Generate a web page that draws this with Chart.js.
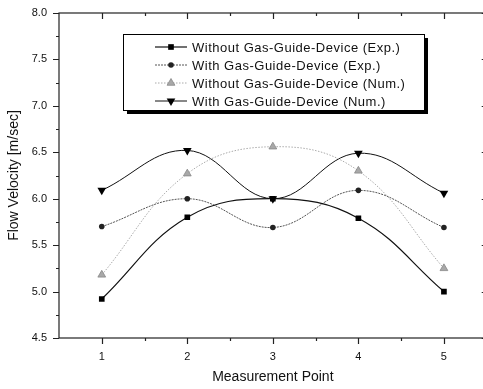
<!DOCTYPE html>
<html>
<head>
<meta charset="utf-8">
<script src="https://cdn.jsdelivr.net/npm/chart.js@4.4.1/dist/chart.umd.min.js"></script>
<style>
  html, body { margin: 0; padding: 0; background: #fff; overflow: hidden; }
  /* l'asse destro dell'originale cade appena fuori dall'immagine */
  #wrap { width: 492px; height: 389px; }
</style>
</head>
<body>
<div id="wrap"><canvas id="velocita"></canvas></div>
<script>
// dati
const punti = [1, 2, 3, 4, 5];
const withoutExp = [4.92, 5.80, 6.00, 5.79, 5.00];
const withExp = [5.70, 6.00, 5.69, 6.09, 5.69];
const withoutNum = [5.18, 6.27, 6.56, 6.30, 5.25];
const withNum = [6.09, 6.52, 6.00, 6.49, 6.06];
const nomiSerie = [
    'Without Gas-Guide-Device (Exp.)',
    'With Gas-Guide-Device (Exp.)',
    'Without Gas-Guide-Device (Num.)',
    'With Gas-Guide-Device (Num.)'
];
const xTicks = [1, 2, 3, 4, 5];
const xMinor = [1.5, 2.5, 3.5, 4.5];
const yTicks = [4.5, 5.0, 5.5, 6.0, 6.5, 7.0, 7.5, 8.0];
const yMinor = [4.75, 5.25, 5.75, 6.25, 6.75, 7.25, 7.75];

const FONT = '"Liberation Sans", Arial, sans-serif';

function serie(valori, label, stile) {
    return {
        label: label,
        data: punti.map((p, i) => ({ x: p, y: valori[i] })),
        tension: 0.4,
        fill: false,
        ...stile
    };
}

const datasets = [
    serie(withoutExp, nomiSerie[0], {
        borderColor: '#111', borderWidth: 1.2,
        pointStyle: 'rect', pointRadius: 4, pointBackgroundColor: '#000', pointBorderColor: '#000', pointBorderWidth: 0
    }),
    serie(withExp, nomiSerie[1], {
        borderColor: '#555', borderWidth: 1, borderDash: [2, 1],
        pointStyle: 'circle', pointRadius: 2.8, pointBackgroundColor: '#222', pointBorderColor: '#222', pointBorderWidth: 0
    }),
    serie(withoutNum, nomiSerie[2], {
        borderColor: '#aaa', borderWidth: 1, borderDash: [1.5, 1.5],
        pointStyle: 'triangle', pointRadius: 4.5, pointBackgroundColor: '#a8a8a8', pointBorderColor: '#888', pointBorderWidth: 0.8
    }),
    serie(withNum, nomiSerie[3], {
        borderColor: '#111', borderWidth: 1,
        pointStyle: 'triangle', pointRotation: 180, pointRadius: 5, pointBackgroundColor: '#000', pointBorderColor: '#000', pointBorderWidth: 0
    })
];

// tacche su tutti e quattro i lati + cornice
const tacchePlugin = {
    id: 'tacche',
    afterDraw(chart) {
        const { ctx, chartArea: a, scales } = chart;
        const x = scales.x, y = scales.y;
        ctx.save();
        ctx.strokeStyle = '#222';
        ctx.lineWidth = 1.2;
        ctx.strokeRect(a.left, a.top, a.right - a.left, a.bottom - a.top);
        ctx.beginPath();
        xTicks.forEach(v => {
            const px = Math.round(x.getPixelForValue(v)) + 0.5;
            ctx.moveTo(px, a.bottom); ctx.lineTo(px, a.bottom + 6);
            ctx.moveTo(px, a.top); ctx.lineTo(px, a.top + 6);
        });
        xMinor.forEach(v => {
            const px = Math.round(x.getPixelForValue(v)) + 0.5;
            ctx.moveTo(px, a.bottom); ctx.lineTo(px, a.bottom + 3);
            ctx.moveTo(px, a.top); ctx.lineTo(px, a.top + 3);
        });
        yTicks.forEach(v => {
            const py = Math.round(y.getPixelForValue(v)) + 0.5;
            ctx.moveTo(a.left - 6, py); ctx.lineTo(a.left, py);
            ctx.moveTo(a.right - 5, py); ctx.lineTo(a.right, py);
        });
        yMinor.forEach(v => {
            const py = Math.round(y.getPixelForValue(v)) + 0.5;
            ctx.moveTo(a.left - 3, py); ctx.lineTo(a.left, py);
            ctx.moveTo(a.right - 3, py); ctx.lineTo(a.right, py);
        });
        ctx.stroke();
        ctx.restore();
    }
};

// legenda in riquadro con ombra, come nell'originale
const legendaPlugin = {
    id: 'legendaBox',
    afterDraw(chart) {
        const { ctx } = chart;
        const bx = 123, by = 34, bw = 301, bh = 76;
        ctx.save();
        ctx.fillStyle = '#000';
        ctx.fillRect(bx + 4, by + 4, bw, bh);
        ctx.fillStyle = '#fff';
        ctx.fillRect(bx, by, bw, bh);
        ctx.strokeStyle = '#000';
        ctx.lineWidth = 1;
        ctx.strokeRect(bx + 0.5, by + 0.5, bw, bh);

        ctx.font = '13px ' + FONT;
        ctx.textBaseline = 'middle';
        chart.data.datasets.forEach((ds, i) => {
            const cy = by + 13 + i * 18;
            ctx.strokeStyle = ds.borderColor;
            ctx.lineWidth = ds.borderWidth;
            ctx.setLineDash(ds.borderDash || []);
            ctx.beginPath();
            ctx.moveTo(155, cy); ctx.lineTo(187, cy);
            ctx.stroke();
            ctx.setLineDash([]);
            ctx.fillStyle = ds.pointBackgroundColor;
            ctx.strokeStyle = ds.pointBorderColor;
            ctx.lineWidth = ds.pointBorderWidth;
            Chart.helpers.drawPoint(ctx, {
                pointStyle: ds.pointStyle,
                rotation: ds.pointRotation || 0,
                radius: ds.pointRadius,
                borderWidth: ds.pointBorderWidth
            }, 171, cy);
            ctx.fillStyle = '#111';
            ctx.letterSpacing = '0.5px';
            ctx.fillText(ds.label, 192, cy + 1);
            ctx.letterSpacing = '0px';
        });
        ctx.restore();
    }
};

new Chart(document.getElementById('velocita'), {
    type: 'line',
    data: { datasets: datasets },
    options: {
        responsive: true,
        maintainAspectRatio: false,
        animation: false,
        events: [],
        layout: { padding: { top: 13, right: 0, left: 0, bottom: 0 } },
        plugins: {
            legend: { display: false },
            tooltip: { enabled: false }
        },
        scales: {
            x: {
                type: 'linear',
                min: 0.5,
                max: 5.5,
                afterBuildTicks: s => { s.ticks = xTicks.map(v => ({ value: v })); },
                afterFit: s => { s.height = 51; },
                grid: { display: false },
                border: { display: false },
                ticks: {
                    padding: 4,
                    color: '#111',
                    font: { family: FONT, size: 11 },
                    callback: v => String(v)
                },
                title: {
                    display: true,
                    text: 'Measurement Point',
                    color: '#111',
                    font: { family: FONT, size: 14 },
                    padding: { top: 0, bottom: 3 }
                }
            },
            y: {
                min: 4.5,
                max: 8.0,
                afterBuildTicks: s => { s.ticks = yTicks.map(v => ({ value: v })); },
                afterFit: s => { s.width = 59; },
                grid: { display: false },
                border: { display: false },
                ticks: {
                    padding: 4,
                    color: '#111',
                    font: { family: FONT, size: 11 },
                    callback: v => Number(v).toFixed(1)
                },
                title: {
                    display: true,
                    text: 'Flow Velocity [m/sec]',
                    color: '#111',
                    font: { family: FONT, size: 14 },
                    padding: { top: 6, bottom: 0 }
                }
            }
        }
    },
    plugins: [tacchePlugin, legendaPlugin]
});
</script>
</body>
</html>
